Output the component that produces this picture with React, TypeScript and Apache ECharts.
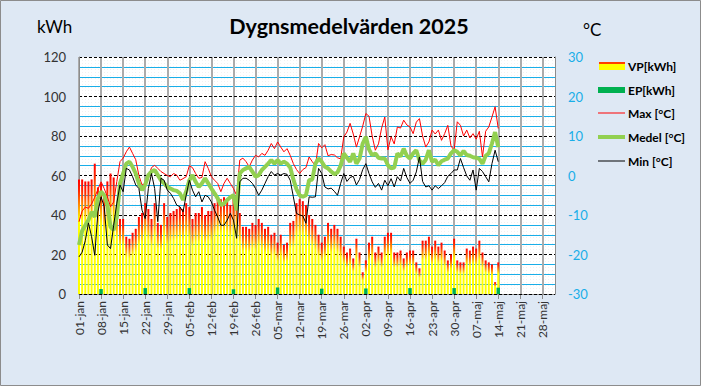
import React, { useEffect, useRef } from 'react';
import * as echarts from 'echarts';

// ---- Axis categories (01-jan .. 01-jun) ----
const monthNames = ['jan', 'feb', 'mar', 'apr', 'maj', 'jun'];
const monthLengths = [31, 28, 31, 30, 31, 1];
const categories: string[] = [];
monthNames.forEach((m, i) => {
  for (let d = 1; d <= monthLengths[i]; d++) categories.push(`${String(d).padStart(2, '0')}-${m}`);
});

// ---- Daily values from 01-jan to 14-maj ----
const vpKWh = [
  58, 58, 57, 57, 58, 66, 54, 56, 50, 57,
  61, 59, 45, 38, 38, 29, 28, 31, 33, 39,
  41, 46, 43, 38, 46, 36, 35, 46, 39, 41,
  42, 43, 44, 43, 46, 44, 38, 41, 41, 44,
  40, 42, 42, 46, 49, 48, 49, 48, 45, 49,
  50, 41, 34, 34, 33, 36, 35, 38, 36, 33,
  34, 30, 31, 26, 30, 25, 26, 36, 37, 46,
  48, 47, 45, 40, 38, 35, 30, 26, 29, 36,
  33, 35, 33, 29, 24, 21, 23, 18, 28, 21,
  11, 17, 26, 29, 21, 24, 21, 29, 31, 31,
  21, 21, 22, 18, 21, 22, 22, 16, 13, 27,
  27, 29, 24, 27, 24, 26, 22, 17, 20, 28,
  17, 16, 16, 23, 22, 24, 23, 27, 21, 17,
  16, 15, 6, 16,
];

const epDates = ['08-jan', '22-jan', '05-feb', '19-feb', '05-mar', '19-mar', '02-apr', '16-apr', '30-apr', '14-maj'];
const epKWh = [2.5, 3, 3, 2.4, 3.3, 2.7, 2.8, 3, 3, 3.2];

const maxTemp = [
  -11.7, -9, -8, -8.3, -7.2, -5.5, -3.5, -1.6, -3.3, -5.4,
  -7.9, -6.7, -1.5, 3.5, 4.4, 6, 7.2, 5.6, 4, 0,
  -2.4, -2, -0.3, 2, 2.6, 1.8, 1, 0.5, 0, -0.3,
  0.5, 0.1, -1.2, -0.8, -0.3, 2.5, 2, 0.5, -0.7, -0.5,
  3.5, 1.8, -0.3, -1.2, -2, -4.1, -2, -0.7, -2, -3.3,
  -5, 3.9, 4.4, 3.5, 2.2, 3.9, 5.1, 4.7, 5.6, 5.1,
  6.4, 8.1, 6.8, 8.5, 7.2, 6, 6.8, 5.1, 3, 1.5,
  0.5, 1.5, 2, 4.7, 3.5, 2.5, 8.1, 7, 7.8, 5,
  5.3, 5.2, 4.5, 4.2, 9.8, 11, 13.2, 10.5, 7.2, 9.8,
  12.5, 15.7, 15, 10, 6.4, 8, 12, 14.8, 6.5, 9.8,
  8, 12.3, 12, 14, 12.8, 12.3, 10.6, 13.5, 14.4, 10,
  7.2, 8.5, 11.5, 10.5, 11.5, 8.9, 10.6, 12.7, 7.5, 6.4,
  13.6, 12.7, 10, 11.5, 9.5, 10.6, 9.2, 11.2, 4.7, 11.2,
  12.3, 14.8, 17.4, 11.9,
];

const medelTemp = [
  -17.6, -14, -12.6, -11.3, -9.2, -10.5, -5.8, -4.1, -5, -7.5,
  -13, -13.8, -10.5, -2, 0.5, 3, 3.5, 2.2, 0.5, -2,
  -3.7, -2.4, 0.1, 1, 1.4, 0.1, -1.2, -2, -2.9, -3.3,
  -3.7, -3.9, -4.5, -6.2, -4.1, -1.2, 0.1, -1.6, -2.9, -2,
  -0.7, -2, -3.3, -4.5, -5.8, -7.5, -7.1, -6.2, -5.5, -5,
  -8.8, 0.5, 1.4, 1.8, 2.2, 1, -0.3, 0.1, 1.4, 2.2,
  3, 3.9, 3, 3.9, 3, 3.5, 3, 2, -1, -3.5,
  -5, -5.4, -5, -1.2, -1, 3, 4.3, 3.5, 2.2, 1.8,
  1, 0.3, 0.8, 2.5, 5.6, 4.5, 3.5, 5.6, 3, 4.3,
  8.1, 9.8, 6.6, 5.1, 5.6, 4.5, 4.3, 4.3, 2.6, 1.8,
  2, 5.6, 4.8, 6.8, 5, 4.3, 5.6, 6.4, 3.8, 3,
  4, 6.4, 3.5, 4, 2.6, 3.6, 4, 4.3, 5.6, 6.4,
  6, 5.1, 6.2, 5.2, 5, 4.6, 4.5, 4.2, 3, 5,
  5.6, 8.1, 11, 7.2,
];

const minTemp = [
  -20.6, -19.4, -16.5, -12, -15.5, -20.2, -9.2, -5.4, -7.9, -17.6,
  -18.5, -12.6, -7, -2.4, -4.1, 1.8, 1.4, -0.3, -2.4, -3.3,
  -8.8, -10.9, -3.3, 0.5, -3.3, -11.7, -0.7, -1.2, -3.7, -4.5,
  -5.8, -7.5, -7.9, -9.2, -5, -1.2, -3.7, -5.4, -4.1, -6.7,
  -5, -5.4, -6.7, -8.8, -10.5, -12.6, -12.6, -11.3, -9.6, -11.3,
  -15.9, -1.6, -0.7, -0.7, -1.2, -2, -3.3, -5, -3.7, -2,
  -0.3, 1, 0.1, 0.5, 0.1, 0.5, 0.3, -1.2, -5.4, -9.6,
  -10, -10.2, -12.1, -5.4, -5.5, -5.4, 1.8, 0.5, -2.9, -3.4,
  -3.2, -4, -5, -2, 0.5, -1.5, -0.5, -0.2, -2.4, -1,
  1.5, 3, 0.5, -1.6, -3, -2, -3.7, -1.2, -2.6, -0.8,
  -2.9, -0.3, -1.4, 1.8, -0.5, -2, -1.2, 0.9, 4.7, -1.5,
  -2.9, -2.6, -3.7, -2.6, -3.3, -2.6, -1.8, -0.2, 0.5, 1.4,
  1.4, 4.3, 2, -0.1, -1.2, 1.4, -3.7, 1.8, 1, -0.3,
  -1.6, 3, 6.4, 3.5,
];

const FONT = 'Lato, "Open Sans", sans-serif';
const CYAN = '#19AEE8';

export default function App() {
  const ref = useRef<HTMLDivElement>(null);

  useEffect(() => {
    document.body.style.margin = '0';
    const chart = echarts.init(ref.current!, null, { renderer: 'svg' });

    const epData = categories.map((c) => {
      const i = epDates.indexOf(c);
      return i >= 0 ? epKWh[i] : null;
    });

    const option: any = {
      animation: false,
      backgroundColor: '#DEE8F4',
      textStyle: { fontFamily: FONT },
      grid: {
        left: 79,
        top: 57,
        width: 476,
        height: 237,
        show: true,
        backgroundColor: '#FFFFFF',
        borderWidth: 0,
      },
      xAxis: [
        {
          type: 'category',
          data: categories,
          boundaryGap: false,
          position: 'bottom',
          axisLine: { show: true, lineStyle: { color: '#8C8C8C', width: 1 } },
          axisTick: { show: true, interval: 6, length: 5, lineStyle: { color: '#8C8C8C' } },
          axisLabel: {
            interval: 6,
            rotate: 90,
            margin: 7,
            fontSize: 12,
            color: '#333333',
            fontFamily: FONT,
          },
          splitLine: { show: true, interval: 6, lineStyle: { color: '#ABABAB', width: 2 } },
          z: 1,
        },
        {
          type: 'category',
          data: categories,
          boundaryGap: false,
          position: 'top',
          axisLine: { show: false },
          axisTick: { show: false },
          axisLabel: { show: false },
          splitLine: { show: false },
        },
        {
          type: 'category',
          data: categories,
          boundaryGap: false,
          position: 'top',
          axisLine: { show: false },
          axisTick: { show: false },
          axisLabel: { show: false },
          splitLine: { show: true, interval: 0, lineStyle: { color: '#EFEFEF', width: 0.8, type: [1, 2] } },
          z: 0,
        },
      ],
      yAxis: [
        {
          type: 'value',
          min: 0,
          max: 120,
          interval: 20,
          position: 'left',
          axisLine: { show: true, lineStyle: { color: '#8C8C8C' } },
          axisTick: { show: false },
          axisLabel: { fontSize: 13, color: '#333333', margin: 13, fontFamily: FONT },
          splitLine: { show: true, lineStyle: { color: '#000000', width: 1, type: [3, 2] } },
          z: 2,
        },
        {
          type: 'value',
          min: -30,
          max: 30,
          interval: 2.5,
          position: 'right',
          axisLine: { show: true, lineStyle: { color: '#8C8C8C' } },
          axisTick: { show: false },
          axisLabel: {
            fontSize: 13,
            color: CYAN,
            margin: 13,
            fontFamily: FONT,
            formatter: (v: number) => (Math.abs(v % 10) < 1e-6 ? String(v) : ''),
          },
          splitLine: {
            show: true,
            showMinLine: true,
            showMaxLine: true,
            lineStyle: { color: ['rgba(0,0,0,0)', CYAN, CYAN, CYAN], width: 1 },
          },
          z: 1,
        },
      ],
      series: [
        {
          name: 'VP[kWh]',
          type: 'bar',
          xAxisIndex: 0,
          yAxisIndex: 0,
          data: vpKWh,
          barWidth: 2,
          itemStyle: {
            color: new echarts.graphic.LinearGradient(0, 0, 0, 1, [
              { offset: 0, color: '#FF0000' },
              { offset: 0.1, color: '#FF2800' },
              { offset: 0.24, color: '#FF9A00' },
              { offset: 0.36, color: '#FFFF00' },
              { offset: 1, color: '#FFFF00' },
            ]),
          },
          z: 3,
        },
        {
          name: 'EP[kWh]',
          type: 'bar',
          xAxisIndex: 1,
          yAxisIndex: 0,
          data: epData,
          barWidth: 3.5,
          itemStyle: { color: '#00B050' },
          z: 4,
        },
        {
          name: 'Max [°C]',
          type: 'line',
          xAxisIndex: 0,
          yAxisIndex: 1,
          data: maxTemp,
          showSymbol: false,
          symbol: 'none',
          lineStyle: { color: '#FF0000', width: 1 },
          z: 5,
        },
        {
          name: 'Medel [°C]',
          type: 'line',
          xAxisIndex: 0,
          yAxisIndex: 1,
          data: medelTemp,
          showSymbol: false,
          symbol: 'none',
          lineStyle: { color: '#92D050', width: 4 },
          z: 6,
        },
        {
          name: 'Min [°C]',
          type: 'line',
          xAxisIndex: 0,
          yAxisIndex: 1,
          data: minTemp,
          showSymbol: false,
          symbol: 'none',
          lineStyle: { color: '#000000', width: 1 },
          z: 7,
        },
      ],
      graphic: [
        {
          type: 'rect',
          shape: { x: 0.5, y: 0.5, width: 700, height: 385 },
          style: { fill: 'none', stroke: '#8C8C8C', lineWidth: 1 },
          silent: true,
        },
        {
          type: 'text',
          x: 349,
          y: 26,
          style: {
            text: 'Dygnsmedelvärden 2025',
            font: `bold 21.5px ${FONT}`,
            fill: '#000000',
            textAlign: 'center',
            textVerticalAlign: 'middle',
          },
        },
        {
          type: 'text',
          x: 37,
          y: 26,
          style: { text: 'kWh', font: `17px ${FONT}`, fill: '#000000', textAlign: 'left', textVerticalAlign: 'middle' },
        },
        {
          type: 'text',
          x: 583,
          y: 29,
          style: { text: '°C', font: `17px ${FONT}`, fill: '#000000', textAlign: 'left', textVerticalAlign: 'middle' },
        },
        // legend
        { type: 'rect', shape: { x: 599, y: 62, width: 26, height: 8 }, style: { fill: '#FFFF00' } },
        { type: 'rect', shape: { x: 599, y: 62, width: 26, height: 2 }, style: { fill: '#FF4000' } },
        { type: 'rect', shape: { x: 598, y: 87, width: 27, height: 6 }, style: { fill: '#00B050' } },
        { type: 'line', shape: { x1: 598, y1: 113, x2: 625, y2: 113 }, style: { stroke: '#FF0000', lineWidth: 1 } },
        { type: 'line', shape: { x1: 598, y1: 137, x2: 625, y2: 137 }, style: { stroke: '#92D050', lineWidth: 4 } },
        { type: 'line', shape: { x1: 598, y1: 161, x2: 625, y2: 161 }, style: { stroke: '#000000', lineWidth: 1 } },
        ...[
          ['VP[kWh]', 66],
          ['EP[kWh]', 90],
          ['Max [°C]', 113],
          ['Medel [°C]', 137],
          ['Min [°C]', 161],
        ].map(([t, y]) => ({
          type: 'text',
          x: 628,
          y: y as number,
          style: {
            text: t as string,
            font: `bold 12px ${FONT}`,
            fill: '#000000',
            textAlign: 'left',
            textVerticalAlign: 'middle',
          },
        })),
      ],
    };

    chart.setOption(option);
    return () => chart.dispose();
  }, []);

  return <div ref={ref} style={{ width: 701, height: 386 }} />;
}
